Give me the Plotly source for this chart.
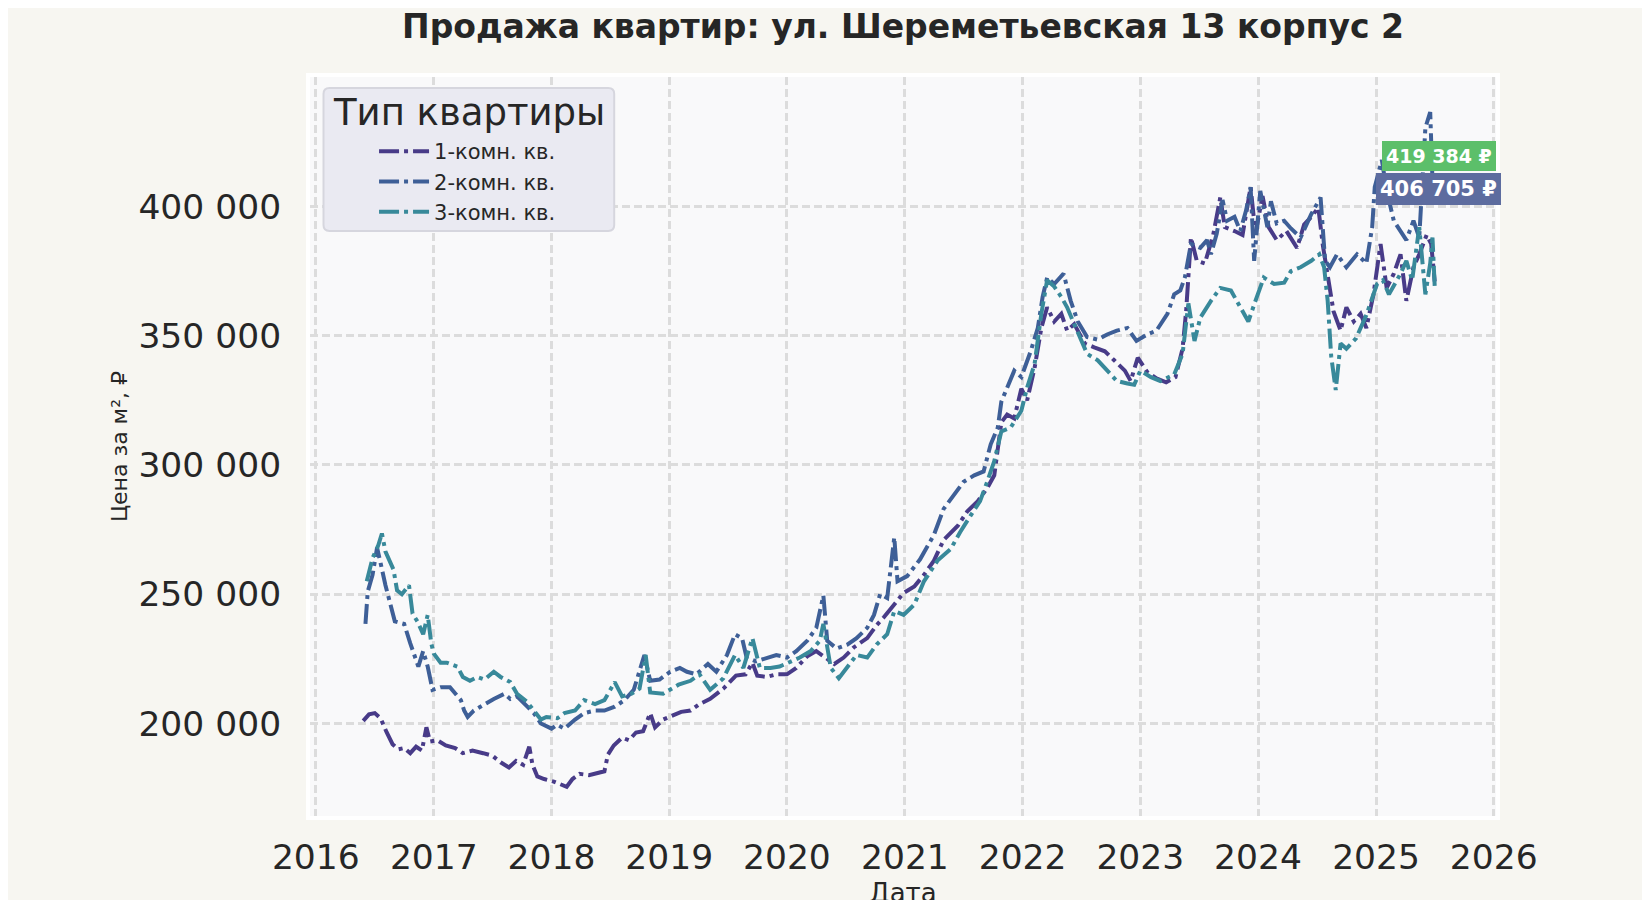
import plotly.graph_objects as go

# 1-комн. кв.
dates_1k = ["2016-05-27", "2016-06-14", "2016-07-02", "2016-07-20", "2016-08-08", "2016-08-26", "2016-09-13",
            "2016-10-01", "2016-10-20", "2016-11-07", "2016-11-25", "2016-12-09", "2016-12-20", "2017-01-12",
            "2017-02-07", "2017-03-08", "2017-04-01", "2017-05-01", "2017-06-03", "2017-07-02", "2017-07-27",
            "2017-08-22", "2017-09-13", "2017-10-05", "2017-10-24", "2017-11-03", "2017-11-18", "2017-12-09",
            "2018-01-08", "2018-01-30", "2018-02-17", "2018-03-07", "2018-03-29", "2018-04-27", "2018-05-27",
            "2018-06-14", "2018-06-25", "2018-07-13", "2018-08-08", "2018-08-29", "2018-09-20", "2018-10-12",
            "2018-11-03", "2018-11-18", "2018-12-13", "2019-01-08", "2019-02-07", "2019-03-08", "2019-04-05",
            "2019-05-08", "2019-06-18", "2019-07-27", "2019-08-26", "2019-09-16", "2019-10-01", "2019-10-31",
            "2019-11-29", "2020-01-01", "2020-01-30", "2020-03-04", "2020-04-01", "2020-05-05", "2020-05-27",
            "2020-06-25", "2020-07-27", "2020-09-06", "2020-10-05", "2020-10-27", "2020-11-29", "2020-12-28",
            "2021-01-30", "2021-03-01", "2021-04-01", "2021-05-01", "2021-06-14", "2021-07-13", "2021-08-15",
            "2021-09-13", "2021-10-05", "2021-10-27", "2021-11-14", "2021-12-06", "2021-12-28", "2022-01-15",
            "2022-02-07", "2022-02-28", "2022-03-18", "2022-04-09", "2022-05-01", "2022-05-19", "2022-06-10",
            "2022-07-13", "2022-08-11", "2022-09-13", "2022-10-12", "2022-11-14", "2022-12-02", "2022-12-24",
            "2023-01-22", "2023-02-20", "2023-03-22", "2023-04-20", "2023-05-12", "2023-05-23", "2023-06-07",
            "2023-06-25", "2023-07-20", "2023-08-15", "2023-09-06", "2023-09-20", "2023-10-20", "2023-11-14",
            "2023-12-09", "2023-12-24", "2024-01-15", "2024-02-03", "2024-02-28", "2024-03-29", "2024-05-01",
            "2024-05-23", "2024-06-14", "2024-07-06", "2024-07-20", "2024-08-08", "2024-08-22", "2024-09-13",
            "2024-10-01", "2024-10-24", "2024-11-14", "2024-12-02", "2024-12-24", "2025-01-15", "2025-02-03",
            "2025-02-25", "2025-03-18", "2025-04-05", "2025-04-27", "2025-05-15", "2025-06-07", "2025-06-21",
            "2025-07-02"]
price_1k = [201000, 203500, 204000, 202000, 196500, 192000, 190000,
            190500, 188500, 191000, 189500, 198500, 193000, 193500,
            191500, 190500, 188500, 189500, 188500, 187500, 185000,
            183000, 185500, 184000, 191000, 184000, 179500, 178500,
            177500, 176500, 175500, 178500, 180500, 180000, 181000,
            181500, 188000, 191500, 194500, 193500, 196500, 197000,
            204000, 198500, 201500, 203000, 204500, 205000, 207500,
            209500, 213500, 218500, 219000, 223500, 218500, 218000,
            219000, 219000, 221500, 226000, 228000, 225000, 223000,
            225500, 229500, 233000, 238000, 241000, 246000, 250500,
            253000, 257500, 263000, 271000, 276500, 282000, 286000,
            291000, 296000, 316500, 319500, 318000, 329500, 325000,
            337500, 353000, 361000, 355500, 358500, 352000, 354500,
            347000, 345500, 344000, 340500, 336500, 332500, 341500,
            336000, 333500, 332000, 334000, 345000, 359500, 388000,
            379000, 378000, 389000, 403500, 392000, 390500, 389000,
            407500, 389500, 404000, 392000, 387000, 390500, 384000,
            393000, 396000, 399500, 385000, 371000, 359500, 352000,
            361000, 355500, 358500, 353000, 366000, 385500, 368500,
            374000, 381500, 363500, 376500, 381500, 389000, 385500,
            371000]

# 2-комн. кв.
dates_2k = ["2016-06-03", "2016-06-10", "2016-06-25", "2016-07-09", "2016-07-20", "2016-08-04", "2016-09-02",
            "2016-10-01", "2016-10-20", "2016-11-14", "2016-11-29", "2016-12-13", "2016-12-28", "2017-01-22",
            "2017-02-20", "2017-03-26", "2017-04-05", "2017-04-16", "2017-05-05", "2017-06-07", "2017-07-06",
            "2017-08-08", "2017-08-26", "2017-09-16", "2017-10-16", "2017-11-07", "2017-11-29", "2018-01-01",
            "2018-01-19", "2018-02-10", "2018-03-15", "2018-04-12", "2018-05-16", "2018-06-14", "2018-07-16",
            "2018-08-15", "2018-09-13", "2018-10-16", "2018-11-03", "2018-12-02", "2019-01-04", "2019-02-03",
            "2019-02-25", "2019-03-26", "2019-05-01", "2019-05-27", "2019-06-29", "2019-07-24", "2019-08-15",
            "2019-08-29", "2019-09-27", "2019-10-31", "2019-11-29", "2020-01-01", "2020-01-30", "2020-03-04",
            "2020-04-01", "2020-04-23", "2020-05-05", "2020-06-03", "2020-07-06", "2020-08-04", "2020-09-06",
            "2020-09-27", "2020-10-16", "2020-11-07", "2020-11-29", "2020-12-09", "2021-01-08", "2021-02-17",
            "2021-04-01", "2021-05-01", "2021-06-03", "2021-07-02", "2021-08-04", "2021-09-02", "2021-09-24",
            "2021-10-16", "2021-10-27", "2021-11-14", "2021-12-06", "2021-12-28", "2022-01-26", "2022-02-17",
            "2022-03-04", "2022-03-18", "2022-04-09", "2022-05-08", "2022-05-30", "2022-06-21", "2022-07-20",
            "2022-08-22", "2022-09-20", "2022-10-20", "2022-11-22", "2022-12-20", "2023-01-22", "2023-02-20",
            "2023-03-26", "2023-04-16", "2023-05-05", "2023-05-19", "2023-06-07", "2023-07-06", "2023-07-27",
            "2023-08-08", "2023-08-26", "2023-09-13", "2023-09-27", "2023-10-20", "2023-11-07", "2023-11-25",
            "2023-12-09", "2023-12-20", "2024-01-08", "2024-01-30", "2024-02-10", "2024-02-28", "2024-03-22",
            "2024-04-12", "2024-05-12", "2024-06-14", "2024-07-13", "2024-07-27", "2024-08-11", "2024-09-02",
            "2024-10-01", "2024-11-03", "2024-12-02", "2024-12-20", "2024-12-28", "2025-01-19", "2025-02-03",
            "2025-02-25", "2025-03-18", "2025-04-05", "2025-04-27", "2025-05-15", "2025-06-03", "2025-06-18",
            "2025-06-25", "2025-07-02"]
price_2k = [238500, 251000, 257500, 268000, 262000, 253500, 239500,
            238500, 231000, 222000, 228000, 222000, 213000, 214000,
            214000, 209000, 205000, 202500, 205000, 207500, 209500,
            211500, 209500, 210500, 206500, 204000, 200000, 198000,
            199500, 198000, 201500, 204000, 205000, 205000, 206500,
            209000, 213000, 226500, 216500, 217000, 220000, 221500,
            220000, 219000, 223000, 220000, 226500, 234500, 233000,
            225500, 224000, 225500, 226500, 225500, 228000, 232000,
            237000, 249500, 232000, 229000, 230500, 233000, 237000,
            242000, 250000, 248500, 272000, 255000, 257000, 263500,
            273000, 283000, 288500, 293500, 296000, 297500, 308000,
            314500, 324500, 330000, 336500, 334000, 344000, 353000,
            365000, 372500, 370000, 374000, 363500, 355500, 349500,
            348500, 350500, 352000, 353000, 348000, 350500, 352000,
            358500, 366000, 367500, 372500, 385500, 384000, 387000,
            381500, 389500, 402500, 394500, 396000, 390500, 398500,
            407500, 379000, 406000, 392000, 402000, 393500, 394500,
            391500, 388000, 397000, 403500, 379000, 376500, 381500,
            376500, 381500, 378000, 392000, 407500, 418000, 406000,
            394500, 390500, 387000, 394500, 388000, 430500, 436500,
            410000, 406705]

# 3-комн. кв.
dates_3k = ["2016-06-07", "2016-06-25", "2016-07-13", "2016-07-24", "2016-08-04", "2016-08-15", "2016-08-29",
            "2016-09-09", "2016-09-24", "2016-10-16", "2016-10-27", "2016-11-11", "2016-11-29", "2016-12-13",
            "2016-12-24", "2017-01-01", "2017-01-22", "2017-02-10", "2017-03-15", "2017-04-01", "2017-04-23",
            "2017-05-16", "2017-06-07", "2017-07-06", "2017-07-27", "2017-08-26", "2017-09-16", "2017-10-16",
            "2017-11-07", "2017-11-29", "2017-12-16", "2018-01-19", "2018-02-10", "2018-03-15", "2018-04-12",
            "2018-05-16", "2018-06-14", "2018-07-16", "2018-08-08", "2018-09-06", "2018-10-01", "2018-10-20",
            "2018-11-03", "2018-12-13", "2019-01-30", "2019-03-08", "2019-04-05", "2019-05-08", "2019-06-18",
            "2019-07-24", "2019-08-19", "2019-09-16", "2019-10-09", "2019-11-11", "2019-12-09", "2020-01-12",
            "2020-02-10", "2020-03-15", "2020-04-12", "2020-04-23", "2020-05-16", "2020-06-10", "2020-07-06",
            "2020-08-04", "2020-09-06", "2020-10-05", "2020-11-07", "2020-11-29", "2020-12-28", "2021-01-30",
            "2021-03-01", "2021-04-12", "2021-05-23", "2021-06-21", "2021-07-24", "2021-08-22", "2021-09-13",
            "2021-10-05", "2021-10-27", "2021-11-25", "2021-12-28", "2022-01-15", "2022-02-07", "2022-02-28",
            "2022-03-18", "2022-04-09", "2022-05-01", "2022-05-19", "2022-06-10", "2022-07-02", "2022-07-20",
            "2022-08-22", "2022-09-20", "2022-10-20", "2022-11-22", "2022-12-13", "2023-01-01", "2023-02-03",
            "2023-03-04", "2023-04-16", "2023-05-12", "2023-05-30", "2023-06-18", "2023-07-06", "2023-08-08",
            "2023-09-06", "2023-10-09", "2023-11-07", "2023-12-02", "2023-12-24", "2024-01-19", "2024-02-20",
            "2024-03-22", "2024-04-12", "2024-05-12", "2024-06-14", "2024-07-09", "2024-07-24", "2024-08-04",
            "2024-08-15", "2024-08-29", "2024-09-13", "2024-10-01", "2024-10-31", "2024-12-02", "2025-01-04",
            "2025-01-22", "2025-02-10", "2025-03-18", "2025-04-05", "2025-04-23", "2025-05-15", "2025-06-03",
            "2025-06-18", "2025-06-25", "2025-07-02"]
price_3k = [255000, 264000, 269000, 273500, 266500, 263500, 259500,
            251500, 250000, 253500, 242500, 239500, 234500, 242000,
            231000, 227000, 223500, 223500, 222000, 218000, 216500,
            218000, 217000, 220000, 218000, 216000, 211500, 208500,
            205000, 201500, 202500, 202000, 204000, 205000, 209000,
            207500, 209000, 216000, 210500, 211500, 213500, 226500,
            212000, 211500, 215000, 216500, 219000, 213000, 217500,
            226500, 221500, 233000, 221500, 221500, 222000, 224000,
            225500, 228000, 232000, 238500, 221500, 217500, 221500,
            226500, 225500, 230500, 234500, 243500, 242000, 246000,
            255000, 263000, 267500, 274000, 280500, 286000, 293500,
            301500, 313000, 314500, 321000, 330000, 339000, 358500,
            371500, 369000, 365000, 361000, 354500, 348000, 343000,
            340500, 336500, 332500, 331500, 331000, 336500, 334000,
            332500, 335000, 343000, 362500, 348000, 357000, 363500,
            368500, 367500, 361000, 355500, 363500, 372500, 370000,
            370500, 375000, 376500, 379000, 381500, 376500, 363500,
            342000, 329000, 347000, 345000, 349000, 358000, 370000,
            371500, 366000, 374000, 379000, 371500, 392000, 366000,
            378000, 388000, 369000]

room_types = ["1-комн. кв.", "2-комн. кв.", "3-комн. кв."]
room_colors = ["#483b88", "#3e5f97", "#38899a"]
y_ticks = [200000, 250000, 300000, 350000, 400000]

# подписи у последней даты
label_values = [419384, 406705]
label_colors = ["#5cbf6a", "#5d6c9f"]
label_sizes = [19, 21]

fig = go.Figure()
for name, d, p, c in zip(room_types, [dates_1k, dates_2k, dates_3k],
                         [price_1k, price_2k, price_3k], room_colors):
    fig.add_trace(go.Scatter(x=d, y=p, name=name, mode="lines",
                             line=dict(color=c, width=4, dash="20px,5px,4px,5px")))

last_date = dates_2k[-1]
for v, c, s in zip(label_values, label_colors, label_sizes):
    fig.add_annotation(x=last_date, y=v, text="<b>" + f"{v:,}".replace(",", " ") + " ₽</b>",
                       showarrow=False, xanchor="center", yanchor="middle", xshift=4,
                       font=dict(size=s, color="white"), bgcolor=c, bordercolor=c,
                       borderpad=3)

# рамка легенды (как в seaborn)
x0, x1, y0, y1 = 0.0114, 0.2565, 0.7916, 0.9851
rx, ry = 0.005, 0.008
legend_path = (f"M {x0+rx},{y0} L {x1-rx},{y0} Q {x1},{y0} {x1},{y0+ry} L {x1},{y1-ry} "
               f"Q {x1},{y1} {x1-rx},{y1} L {x0+rx},{y1} Q {x0},{y1} {x0},{y1-ry} "
               f"L {x0},{y0+ry} Q {x0},{y0} {x0+rx},{y0} Z")
fig.add_shape(type="path", path=legend_path, xref="paper", yref="paper",
              fillcolor="#eaeaf2", line=dict(color="#d6d6de", width=2), layer="above")
fig.add_annotation(x=(x0 + x1) / 2, y=0.9518, xref="paper", yref="paper", text="Тип квартиры",
                   showarrow=False, xanchor="center", yanchor="middle",
                   font=dict(size=37, color="#262626"))

fig.update_layout(
    width=1650, height=900,
    paper_bgcolor="#f7f6f1", plot_bgcolor="#f9f9fa",
    margin=dict(l=302, r=162, t=69, b=92),
    font=dict(family="DejaVu Sans", color="#262626"),
    separators=". ",
    title=dict(text="<b>Продажа квартир: ул. Шереметьевская 13 корпус 2</b>",
               xref="paper", x=0.5, xanchor="center", yref="container", y=0.979, yanchor="middle",
               font=dict(size=33, color="#262626"), automargin=False),
    legend=dict(x=0.054, y=0.9268, xanchor="left", yanchor="top", bgcolor="rgba(0,0,0,0)",
                font=dict(size=21, color="#262626"), tracegroupgap=0, itemwidth=50),
)

fig.update_xaxes(range=["2015-12-14", "2026-01-08"], tick0="2016-01-01", dtick="M12", tickformat="%Y",
                 showgrid=True, gridcolor="#dcdcdc", gridwidth=2.5, griddash="8px,4px",
                 tickfont=dict(size=34.5), ticks="outside", ticklen=8, tickcolor="rgba(0,0,0,0)",
                 showline=True, linecolor="white", linewidth=4, mirror=True, zeroline=False,
                 automargin=False, title=dict(text="Дата", font=dict(size=26), standoff=25))
fig.update_yaxes(range=[164200, 450100], tickvals=y_ticks, tickformat=",d",
                 showgrid=True, gridcolor="#dcdcdc", gridwidth=2.5, griddash="8px,4px",
                 tickfont=dict(size=34.5), ticks="outside", ticklen=18, tickcolor="rgba(0,0,0,0)",
                 showline=True, linecolor="white", linewidth=4, mirror=True, zeroline=False,
                 automargin=False, title=dict(text="Цена за м², ₽", font=dict(size=22), standoff=6))

fig.write_html("out.html")
